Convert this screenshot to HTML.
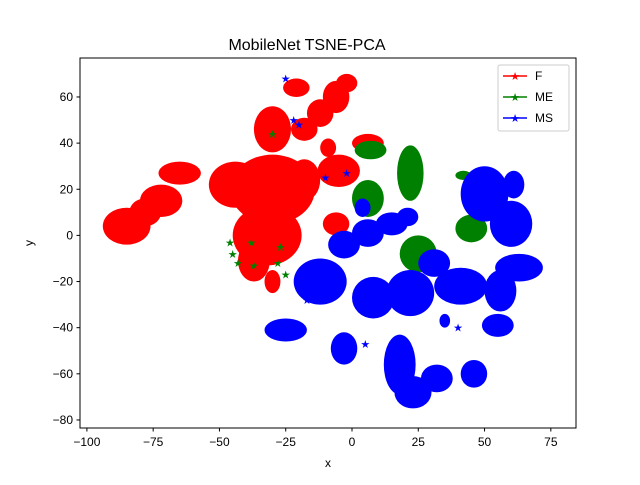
<!DOCTYPE html>
<html><head><meta charset="utf-8"><style>
body{margin:0;background:#fff}
svg text{font-family:"Liberation Sans","DejaVu Sans",sans-serif}
</style></head><body>
<svg id="chart" width="640" height="480" xmlns="http://www.w3.org/2000/svg">
<rect width="640" height="480" fill="#fff"/>
<text x="307" y="50" font-size="16" text-anchor="middle">MobileNet TSNE-PCA</text>
<g id="marks"></g>
<rect x="80" y="58" width="496" height="370" fill="none" stroke="#000" stroke-width="1"/>
<g id="axes"></g>
<text x="328" y="467" font-size="12" text-anchor="middle">x</text>
<text x="33" y="243" font-size="12" text-anchor="middle" transform="rotate(-90 33 243)">y</text>
<g>
<rect x="498" y="65" width="71" height="66" rx="2" fill="#fff" stroke="#ccc"/>
<g><line x1="503" y1="76" x2="527" y2="76" stroke="red" stroke-width="1.5"/><text x="515" y="80" font-size="11" fill="red" text-anchor="middle">★</text><text x="535" y="80" font-size="12">F</text></g>
<g><line x1="503" y1="97" x2="527" y2="97" stroke="green" stroke-width="1.5"/><text x="515" y="101" font-size="11" fill="green" text-anchor="middle">★</text><text x="535" y="101" font-size="12">ME</text></g>
<g><line x1="503" y1="118" x2="527" y2="118" stroke="blue" stroke-width="1.5"/><text x="515" y="122" font-size="11" fill="blue" text-anchor="middle">★</text><text x="535" y="122" font-size="12">MS</text></g>
</g>
</svg>
<script>
const xTicks=[-100,-75,-50,-25,0,25,50,75];
const yTicks=[-80,-60,-40,-20,0,20,40,60];
// clusters: [cx, cy, rx, ry] in data units
const clustersF=[[-85,4,9,8],[-78,10,6,6],[-72,15,8,7],[-65,27,8,5],[-44,22,10,10],[-30,20,16,15],[-18,24,6,9],[-32,0,13,13],[-37,-11,6,9],[-21,64,5,4],[-18,46,5,5],[-12,53,5,6],[-6,60,5,7],[-2,66,4,4],[-30,46,7,10],[-5,28,8,7],[-9,38,3,4],[-6,5,5,5],[6,40,6,4],[-30,-20,3,5]];
const clustersME=[[7,37,6,4],[22,27,5,12],[6,16,6,8],[45,3,6,6],[25,-8,7,8],[42,26,3,2]];
const clustersMS=[[-3,-4,6,6],[6,1,6,6],[15,5,6,5],[21,8,4,4],[50,18,9,12],[60,5,8,10],[61,22,4,6],[63,-14,9,6],[56,-24,6,9],[41,-22,10,8],[31,-12,6,6],[8,-27,8,9],[22,-25,9,10],[-12,-20,10,10],[-25,-41,8,5],[-3,-49,5,7],[18,-56,6,13],[23,-68,7,7],[32,-62,6,6],[46,-60,5,6],[55,-39,6,5],[35,-37,2,3],[4,12,3,4]];
const pointsMS=[[-25,68],[-20,48],[-10,25],[-2,27],[40,-40],[5,-47],[-22,50],[-17,-28]];
const pointsME=[[-46,-3],[-45,-8],[-43,-12],[-38,-3],[-37,-13],[-27,-5],[-28,-12],[-25,-17],[-30,44],[41,5]];
const X0=352,XS=2.651,Y0=235.4,YS=2.307;
const xs=v=>X0+v*XS, ys=v=>Y0-v*YS;
const NS="http://www.w3.org/2000/svg";
const marks=document.getElementById('marks');
function drawClusters(arr,color,name){
  arr.forEach((c,i)=>{
    const e=document.createElementNS(NS,'ellipse');
    e.setAttribute('cx',xs(c[0]));e.setAttribute('cy',ys(c[1]));
    e.setAttribute('rx',c[2]*XS);e.setAttribute('ry',c[3]*YS);
    e.setAttribute('fill',color);
    
    
    marks.appendChild(e);
  });
}
function drawPoints(arr,color,name){
  arr.forEach((p,i)=>{
    const t=document.createElementNS(NS,'text');
    t.setAttribute('x',xs(p[0]));t.setAttribute('y',ys(p[1])+4);
    t.setAttribute('font-size','11');t.setAttribute('fill',color);t.setAttribute('text-anchor','middle');
    t.textContent='★';
    
    
    marks.appendChild(t);
  });
}
drawClusters(clustersF,'red','f');
drawClusters(clustersME,'green','me');
drawClusters(clustersMS,'blue','ms');
drawPoints(pointsME,'green','me');
drawPoints(pointsMS,'blue','ms');
const axes=document.getElementById('axes');
xTicks.forEach(v=>{
  const l=document.createElementNS(NS,'line');
  l.setAttribute('x1',xs(v));l.setAttribute('x2',xs(v));l.setAttribute('y1',428);l.setAttribute('y2',431.5);l.setAttribute('stroke','#000');
  
  
  axes.appendChild(l);
  const t=document.createElementNS(NS,'text');
  t.setAttribute('x',xs(v));t.setAttribute('y',446);t.setAttribute('font-size','12');t.setAttribute('text-anchor','middle');
  t.textContent=v<0?'\u2212'+(-v):v;
  
  
  axes.appendChild(t);
});
yTicks.forEach(v=>{
  const l=document.createElementNS(NS,'line');
  l.setAttribute('x1',76.5);l.setAttribute('x2',80);l.setAttribute('y1',ys(v));l.setAttribute('y2',ys(v));l.setAttribute('stroke','#000');
  
  
  axes.appendChild(l);
  const t=document.createElementNS(NS,'text');
  t.setAttribute('x',73);t.setAttribute('y',ys(v)+4);t.setAttribute('font-size','12');t.setAttribute('text-anchor','end');
  t.textContent=v<0?'\u2212'+(-v):v;
  
  
  axes.appendChild(t);
});
</script>
</body></html>
